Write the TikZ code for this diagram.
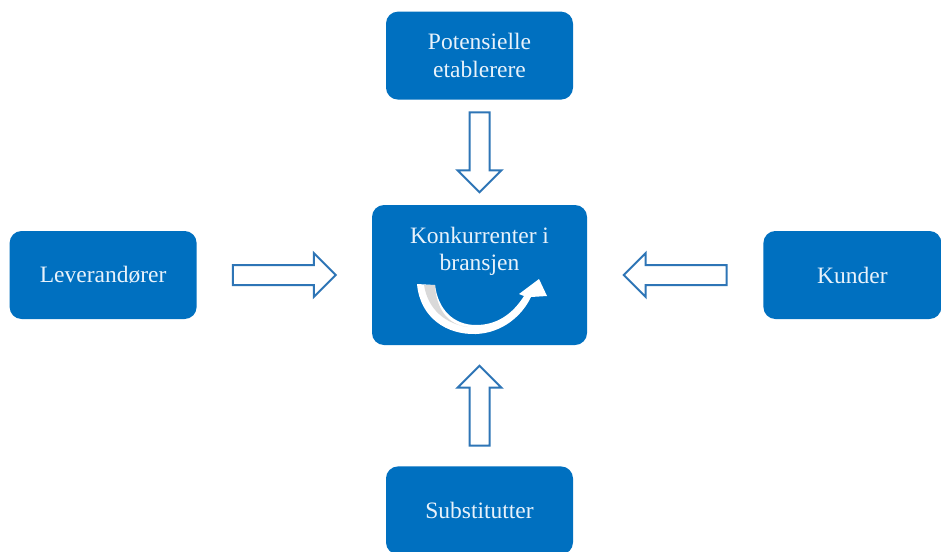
\documentclass[tikz,border=0pt]{standalone}
\usepackage{fontspec}
\setmainfont{Liberation Serif}
\usepackage{xcolor}
\usetikzlibrary{positioning,calc}
\definecolor{boxblue}{RGB}{0,112,192}
\definecolor{arrowblue}{RGB}{46,117,182}
\definecolor{boxtext}{RGB}{232,242,251}
\tikzset{
force/.style={
fill=boxblue,
rounded corners=12pt,
minimum width=187pt,
minimum height=88pt,
align=center,
text=boxtext,
font=\fontsize{23.5}{28.5}\selectfont
},
pilkant/.style={
draw=arrowblue,
line width=2pt,
fill=white,
line join=miter
},
pics/blokkpil/.style={
code={
\draw[pilkant](-#1,-10) -- (#1-22,-10) -- (#1-22,-22) -- (#1,0)
-- (#1-22,22) -- (#1-22,10) -- (-#1,10) -- cycle;
}
}
}

\begin{document}
\begin{tikzpicture}[x=1pt,y=-1pt]
\fill[white](0,0) rectangle (941,551);
\useasboundingbox (0,0) rectangle (941,551);

\node[force,minimum width=215pt,minimum height=140pt](konk) at (479.5,275){};
\node[force,above=105pt of konk](potens){Potensielle\\etablerere};
\node[force,left=175pt of konk](lever){Leverandører};
\node[force,right=176pt of konk,minimum width=178pt](kunder){Kunder};
\node[force,below=121pt of konk](subst){Substitutter};
\node[text=boxtext,align=center,inner sep=0pt,font=\fontsize{23.5}{27}\selectfont,
below=22pt of konk.north](konktxt){Konkurrenter i\\bransjen};

% blokkpiler mot midten
\coordinate (pil1) at ($(potens.south)!0.5!(konk.north)$);
\coordinate (pil2) at ($(lever.east)!0.5!(konk.west)$);
\coordinate (pil3) at ($(kunder.west)!0.5!(konk.east)$);
\coordinate (pil4) at ($(subst.north)!0.5!(konk.south)$);
\pic[rotate=-90] at (pil1) {blokkpil=40};
\pic at (pil2) {blokkpil=51.5};
\pic[rotate=180] at (pil3) {blokkpil=51.5};
\pic[rotate=90] at (pil4) {blokkpil=40};

% buet pil i midtboksen
\fill[white](417,284) .. controls (420,318) and (447,335) .. (476,334)
.. controls (502,333) and (522,316) .. (531,297)
-- (547,296) -- (539,279) -- (519,294) -- (524,296)
.. controls (512,315) and (496,325) .. (476,325)
.. controls (453,325) and (438,309) .. (435,285) -- cycle;
\fill[gray!30](424,285) .. controls (428,310) and (446,324) .. (468,327)
.. controls (448,325) and (436,309) .. (435,285) -- cycle;
\end{tikzpicture}
\end{document}
